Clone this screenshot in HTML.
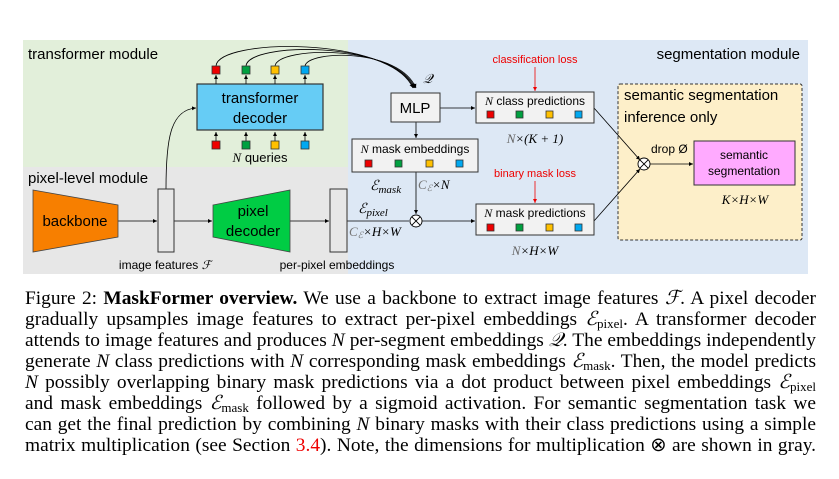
<!DOCTYPE html>
<html><head><meta charset="utf-8"><style>
body{margin:0;width:839px;height:479px;background:#fff;overflow:hidden;position:relative;font-family:"Liberation Serif",serif}
svg{position:absolute;left:0;top:0}
.cap{position:absolute;left:25px;width:791px;font-size:19.4px;line-height:21px;text-align:justify;text-align-last:justify;white-space:nowrap;color:#000}
i{font-style:italic}
sub{font-size:13px;vertical-align:-3px;line-height:0}
</style></head><body>
<svg width="839" height="280" viewBox="0 0 839 280" font-family="Liberation Sans, sans-serif">
<defs><marker id="a" markerWidth="6" markerHeight="6" refX="5" refY="3" orient="auto"><path d="M0,0.5 L5,3 L0,5.5z" fill="#000"/></marker>
<marker id="r" markerWidth="6" markerHeight="6" refX="5" refY="3" orient="auto"><path d="M0,0.5 L5,3 L0,5.5z" fill="#e00"/></marker></defs>
<rect x="347" y="40" width="461" height="234" fill="#dde8f5"/>
<rect x="23" y="40" width="325" height="127" fill="#e2efda"/>
<rect x="23" y="167" width="325" height="107" fill="#e7e7e7"/>
<rect x="618" y="84" width="184" height="156" fill="#fdefc9" stroke="#333" stroke-width="1" stroke-dasharray="3,2" rx="2"/>
<text x="28" y="59" font-size="15">transformer module</text>
<text x="28" y="183" font-size="15">pixel-level module</text>
<text x="800" y="59" font-size="15" text-anchor="end">segmentation module</text>
<rect x="197" y="84" width="126" height="46" fill="#66ccf5" stroke="#333" stroke-width="1.2"/>
<text x="260" y="103" font-size="15" text-anchor="middle">transformer</text>
<text x="260" y="123" font-size="15" text-anchor="middle">decoder</text>
<g stroke="#000" stroke-width="0.8" fill="none">
<line x1="216" y1="84" x2="216" y2="75" marker-end="url(#a)"/><line x1="246" y1="84" x2="246" y2="75" marker-end="url(#a)"/><line x1="275" y1="84" x2="275" y2="75" marker-end="url(#a)"/><line x1="305" y1="84" x2="305" y2="75" marker-end="url(#a)"/>
<line x1="216" y1="141" x2="216" y2="132" marker-end="url(#a)"/><line x1="246" y1="141" x2="246" y2="132" marker-end="url(#a)"/><line x1="275" y1="141" x2="275" y2="132" marker-end="url(#a)"/><line x1="305" y1="141" x2="305" y2="132" marker-end="url(#a)"/>
<path d="M216,66 C218,38 390,36 413,88" marker-end="url(#a)"/>
<path d="M246,66 C248,42 393,40 414,88" marker-end="url(#a)"/>
<path d="M275,66 C278,46 396,44 415,88" marker-end="url(#a)"/>
<path d="M305,66 C308,50 399,48 416,88" marker-end="url(#a)"/>
<path d="M166,189 C166,140 170,110 196,108" marker-end="url(#a)"/>
<line x1="118" y1="221" x2="157" y2="221" marker-end="url(#a)"/>
<line x1="174" y1="221" x2="212" y2="221" marker-end="url(#a)"/>
<line x1="290" y1="221" x2="329" y2="221" marker-end="url(#a)"/>
<line x1="347" y1="221" x2="409" y2="221"/>
<line x1="440" y1="108" x2="475" y2="108" marker-end="url(#a)"/>
<line x1="416" y1="122" x2="416" y2="138" marker-end="url(#a)"/>
<line x1="416" y1="172" x2="416" y2="214" marker-end="url(#a)"/>
<line x1="422" y1="221" x2="475" y2="221" marker-end="url(#a)"/>
<line x1="594" y1="108" x2="640" y2="160" marker-end="url(#a)"/>
<line x1="594" y1="221" x2="640" y2="169" marker-end="url(#a)"/>
<line x1="650" y1="164" x2="693" y2="164" marker-end="url(#a)"/>
</g>
<g stroke="#333" stroke-width="0.8">
<rect x="212" y="66" width="8" height="8" fill="#e00"/><rect x="242" y="66" width="8" height="8" fill="#00a040"/><rect x="271" y="66" width="8" height="8" fill="#ffc000"/><rect x="301" y="66" width="8" height="8" fill="#00a8f0"/>
<rect x="212" y="141" width="8" height="8" fill="#e00"/><rect x="242" y="141" width="8" height="8" fill="#00a040"/><rect x="271" y="141" width="8" height="8" fill="#ffc000"/><rect x="301" y="141" width="8" height="8" fill="#00a8f0"/>
</g>
<text x="260" y="162" font-size="13" text-anchor="middle"><tspan font-family="Liberation Serif" font-style="italic">N</tspan> queries</text>
<polygon points="33,190 118,205 118,237 33,252" fill="#f77f00" stroke="#444" stroke-width="0.8"/>
<text x="75" y="226" font-size="15" text-anchor="middle">backbone</text>
<rect x="158" y="189" width="16" height="63" fill="#e7e7e7" stroke="#333" stroke-width="1"/>
<text x="165" y="269" font-size="12" text-anchor="middle">image features <tspan font-style="italic" font-family="Liberation Serif">ℱ</tspan></text>
<polygon points="213,205 290,190 290,252 213,237" fill="#00cc44" stroke="#444" stroke-width="0.8"/>
<text x="253" y="216" font-size="15" text-anchor="middle">pixel</text>
<text x="253" y="236" font-size="15" text-anchor="middle">decoder</text>
<rect x="330" y="189" width="17" height="63" fill="#e7e7e7" stroke="#333" stroke-width="1"/>
<text x="337" y="269" font-size="12" text-anchor="middle">per-pixel embeddings</text>
<text x="423" y="83" font-size="13" font-family="Liberation Serif" font-style="italic">𝒬</text>
<rect x="391" y="93" width="49" height="29" fill="#f2f2f2" stroke="#333" stroke-width="1"/>
<text x="415" y="113" font-size="15" text-anchor="middle">MLP</text>
<text x="535" y="63" font-size="11" fill="#e00" text-anchor="middle">classification loss</text>
<line x1="535" y1="67" x2="535" y2="91" stroke="#e00" stroke-width="0.8" marker-end="url(#r)"/>
<rect x="476" y="92" width="118" height="31" fill="#f2f2f2" stroke="#333" stroke-width="1"/>
<text x="535" y="105" font-size="12" text-anchor="middle"><tspan font-family="Liberation Serif" font-style="italic">N</tspan> class predictions</text>
<text x="535" y="143" font-size="13" text-anchor="middle" font-family="Liberation Serif" font-style="italic"><tspan fill="#666">N</tspan>×(K + 1)</text>
<rect x="352" y="139" width="126" height="33" fill="#f2f2f2" stroke="#333" stroke-width="1"/>
<text x="415" y="153" font-size="12" text-anchor="middle"><tspan font-family="Liberation Serif" font-style="italic">N</tspan> mask embeddings</text>
<text x="535" y="177" font-size="11" fill="#e00" text-anchor="middle">binary mask loss</text>
<line x1="535" y1="181" x2="535" y2="203" stroke="#e00" stroke-width="0.8" marker-end="url(#r)"/>
<rect x="476" y="204" width="118" height="31" fill="#f2f2f2" stroke="#333" stroke-width="1"/>
<text x="535" y="217" font-size="12" text-anchor="middle"><tspan font-family="Liberation Serif" font-style="italic">N</tspan> mask predictions</text>
<text x="535" y="255" font-size="13" text-anchor="middle" font-family="Liberation Serif" font-style="italic"><tspan fill="#666">N</tspan>×H×W</text>
<g stroke="#333" stroke-width="0.8">
<rect x="365" y="160" width="7" height="7" fill="#e00"/><rect x="395" y="160" width="7" height="7" fill="#00a040"/><rect x="426" y="160" width="7" height="7" fill="#ffc000"/><rect x="456" y="160" width="7" height="7" fill="#00a8f0"/>
<rect x="487" y="111" width="7" height="7" fill="#e00"/><rect x="516" y="111" width="7" height="7" fill="#00a040"/><rect x="546" y="111" width="7" height="7" fill="#ffc000"/><rect x="575" y="111" width="7" height="7" fill="#00a8f0"/>
<rect x="487" y="224" width="7" height="7" fill="#e00"/><rect x="516" y="224" width="7" height="7" fill="#00a040"/><rect x="546" y="224" width="7" height="7" fill="#ffc000"/><rect x="575" y="224" width="7" height="7" fill="#00a8f0"/>
</g>
<g font-family="Liberation Serif" font-style="italic" font-size="14">
<text x="370" y="190">ℰ<tspan font-size="11" dy="3">mask</tspan></text>
<text x="418" y="189" font-size="13"><tspan fill="#777">C<tspan font-size="9" dy="2">ℰ</tspan></tspan><tspan dy="-2">×N</tspan></text>
<text x="358" y="213">ℰ<tspan font-size="11" dy="3">pixel</tspan></text>
<text x="349" y="236" font-size="13"><tspan fill="#777">C<tspan font-size="9" dy="2">ℰ</tspan></tspan><tspan dy="-2">×H×W</tspan></text>
</g>
<g stroke="#000" stroke-width="0.9" fill="#fff">
<circle cx="416" cy="221" r="6"/><path d="M411.8,216.8 L420.2,225.2 M420.2,216.8 L411.8,225.2"/>
</g>
<text x="624" y="100" font-size="15">semantic segmentation</text>
<text x="624" y="122" font-size="15">inference only</text>
<text x="651" y="153" font-size="12">drop Ø</text>
<g stroke="#000" stroke-width="0.9" fill="#fff">
<circle cx="644" cy="164" r="6"/><path d="M639.8,159.8 L648.2,168.2 M648.2,159.8 L639.8,168.2"/>
</g>
<rect x="694" y="141" width="101" height="44" fill="#ffaaff" stroke="#333" stroke-width="1"/>
<text x="744" y="159" font-size="12" text-anchor="middle">semantic</text>
<text x="744" y="175" font-size="12" text-anchor="middle">segmentation</text>
<text x="745" y="204" font-size="13" text-anchor="middle" font-family="Liberation Serif" font-style="italic">K×H×W</text>
</svg>
<div class="cap" style="top:288px">Figure 2: <b>MaskFormer overview.</b> We use a backbone to extract image features <i>ℱ</i>. A pixel decoder</div>
<div class="cap" style="top:309px">gradually upsamples image features to extract per-pixel embeddings <i>ℰ</i><sub>pixel</sub>. A transformer decoder</div>
<div class="cap" style="top:330px">attends to image features and produces <i>N</i> per-segment embeddings <i>𝒬</i>. The embeddings independently</div>
<div class="cap" style="top:351px">generate <i>N</i> class predictions with <i>N</i> corresponding mask embeddings <i>ℰ</i><sub>mask</sub>. Then, the model predicts</div>
<div class="cap" style="top:372px"><i>N</i> possibly overlapping binary mask predictions via a dot product between pixel embeddings <i>ℰ</i><sub>pixel</sub></div>
<div class="cap" style="top:393px">and mask embeddings <i>ℰ</i><sub>mask</sub> followed by a sigmoid activation. For semantic segmentation task we</div>
<div class="cap" style="top:414px">can get the final prediction by combining <i>N</i> binary masks with their class predictions using a simple</div>
<div class="cap" style="top:435px">matrix multiplication (see Section <span style="color:#e00">3.4</span>). Note, the dimensions for multiplication ⊗ are shown in gray.</div>
</body></html>
